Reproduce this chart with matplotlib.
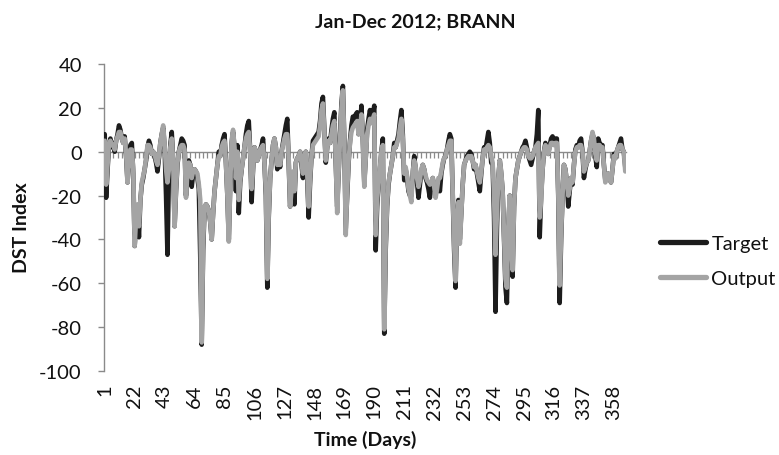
import matplotlib
matplotlib.use("Agg")
import matplotlib.pyplot as plt
import numpy as np

# Daily DST index, Jan-Dec 2012: observed values and BRANN model output
target = [
    8, -21, -8, 3, 6, 2, 4, 0, 5, 8,
    12, 10, 6, 4, 7, -2, -14, -4, 3, 4,
    -10, -43, -32, -25, -39, -22, -15, -12, -8, -4,
    2, 5, 3, -1, 0, -2, -5, -9, -3, 4,
    8, 11, 2, -20, -47, -10, 3, 9, -5, -34,
    -18, -6, 0, 3, 6, 5, 3, -20, -8, -4,
    -6, -16, -10, -8, -9, -12, -17, -48, -88, -45,
    -26, -24, -25, -27, -32, -40, -28, -18, -12, -6,
    0, -2, 3, 6, 8, -5, -20, -40, -15, 4,
    9, 2, -18, 3, -28, -14, -8, -3, 2, 8,
    12, 14, 0, -23, -8, 2, 0, -4, -2, 1,
    3, 6, -5, -20, -62, -30, -12, -4, 3, 6,
    2, -8, -4, -7, 0, 4, 8, 12, 15, -5,
    -25, -18, -10, -24, -5, -3, -2, 0, -6, -12,
    -2, 0, -12, -30, -14, -2, 5, 6, 7, 8,
    9, 14, 22, 25, 10, -5, 2, 6, 4, 10,
    15, 18, -5, -25, -10, 8, 22, 30, 5, -35,
    -20, -5, 5, 12, 16, 15, 17, 18, 8, 12,
    21, 5, -14, -3, 10, 15, 19, 14, 17, 21,
    -45, -25, -15, -8, 0, 6, -83, -45, -25, -15,
    -10, -6, -2, 4, 2, 5, 8, 14, 19, 8,
    -13, -8, -12, -18, -20, -20, -10, -2, -8, -14,
    -21, -15, -9, -6, -8, -12, -14, -17, -21, -15,
    -12, -16, -19, -18, -14, -18, -10, -6, -3, -2,
    1, 5, 8, 6, -20, -45, -62, -30, -22, -40,
    -28, -15, -6, -4, -2, -1, 0, -1, -4, -8,
    -6, -10, -14, -18, -10, -3, 2, 1, 5, 9,
    4, -5, -6, -30, -73, -35, -12, -4, -10, -18,
    -40, -62, -69, -35, -20, -42, -57, -25, -12, -8,
    -4, -2, 0, 2, 3, 5, 2, -2, -4, -6,
    -3, 0, 2, 8, 19, -39, -20, -8, 0, 4,
    2, -1, 3, 6, 7, 4, 6, 6, -20, -69,
    -40, -20, -6, -8, -14, -25, -18, -12, -15, -6,
    1, 3, 2, 5, 6, 0, -12, -8, -5, -4,
    0, 5, 8, 6, -2, -7, 6, 4, 3, 3,
    -6, -13, -12, -10, -12, -14, -8, -1, -3, 0,
    2, 4, 6, 1, 0, -7,
]

output = [
    5, -15, -6, 4, 5, 3, 3, 1, 5, 7,
    9, 9, 6, 4, 6, -1, -14, -4, 1, 1,
    -8, -43, -30, -24, -34, -22, -14, -11, -8, -3,
    3, 3, 2, -1, 0, -1, -4, -6, -2, 4,
    8, 12, 3, -8, -14, -8, 2, 6, -4, -34,
    -17, -5, 0, 2, 3, 3, 1, -21, -9, -5,
    -6, -12, -9, -8, -9, -10, -15, -22, -87, -42,
    -25, -24, -25, -27, -32, -40, -28, -18, -12, -6,
    -2, -2, 2, 4, 5, -5, -20, -41, -15, 5,
    10, 2, -12, 0, -22, -13, -8, -3, 2, 6,
    8, 9, 0, -17, -8, 2, 0, -4, -2, 1,
    2, 3, -5, -18, -58, -28, -12, -4, 3, 6,
    2, -6, -4, -6, 0, 3, 6, 8, 8, -3,
    -25, -17, -9, -18, -5, -3, -2, 0, -5, -10,
    -2, 0, -10, -25, -12, -2, 3, 4, 5, 6,
    7, 12, 19, 22, 9, -4, 2, 5, 4, 8,
    12, 14, -4, -28, -9, 6, 20, 28, 4, -38,
    -18, -4, 4, 9, 11, 12, 13, 14, 8, 10,
    17, 4, -16, -3, 8, 12, 15, 13, 15, 17,
    -38, -22, -14, -7, 0, 3, -81, -42, -24, -14,
    -10, -6, -2, 2, 2, 4, 6, 11, 15, 6,
    -10, -7, -11, -17, -20, -23, -9, -4, -7, -12,
    -16, -13, -8, -6, -8, -11, -13, -14, -15, -14,
    -12, -16, -21, -17, -12, -12, -9, -5, -3, -2,
    1, 3, 5, 5, -18, -42, -59, -30, -23, -42,
    -28, -15, -6, -4, -3, -2, -3, -2, -4, -7,
    -6, -9, -12, -14, -9, -3, 1, 0, 2, 3,
    2, -2, -5, -20, -47, -28, -12, -4, -9, -18,
    -38, -58, -62, -34, -20, -40, -54, -25, -12, -8,
    -4, -2, 0, 1, 2, 2, 1, -2, -3, -3,
    -2, 0, 2, 3, 4, -30, -22, -8, 0, 3,
    2, -1, 2, 4, 4, 3, 4, 4, -18, -61,
    -38, -20, -6, -8, -14, -20, -17, -12, -14, -6,
    0, 2, 2, 3, 3, 0, -9, -7, -5, -4,
    0, 5, 9, 6, -1, -4, 3, 3, 2, 2,
    -6, -14, -12, -10, -12, -14, -8, -2, -3, 0,
    2, 3, 3, 1, 0, -9,
]

days = list(range(1, len(target) + 1))
day_labels = [1, 22, 43, 64, 85, 106, 127, 148, 169, 190, 211, 232,
              253, 274, 295, 316, 337, 358]
y_ticks = [40, 20, 0, -20, -40, -60, -80, -100]

plt.rcParams['font.family'] = ['Lato', 'DejaVu Sans']
AXIS_GREY = '#8a8a8a'
TEXT = '#111111'

W, H = 779, 456
fig = plt.figure(figsize=(W / 100, H / 100), dpi=100)
ax = fig.add_axes([104 / W, 1 - 372 / H, 522 / W, 307 / H])

ax.plot(days, target, color='#1c1c1c', lw=3.3, solid_joinstyle='round',
        solid_capstyle='round', label='Target', zorder=3)
ax.plot(days, output, color='#a4a4a4', lw=3.3, solid_joinstyle='round',
        solid_capstyle='round', label='Output', zorder=4)

ax.set_xlim(0.5, len(days) + 0.5)
ax.set_ylim(-100, 40)

# value axis on the left
ax.set_yticks(y_ticks)
ax.set_yticklabels([str(v) for v in y_ticks])
ax.tick_params(axis='y', direction='out', length=4, width=1, color=AXIS_GREY,
               labelsize=14.5, labelcolor=TEXT, pad=12)
ax.spines['left'].set_color(AXIS_GREY)
ax.spines['left'].set_linewidth(1)
ax.spines['top'].set_visible(False)
ax.spines['right'].set_visible(False)

# category axis crossing at zero, with small tick marks
ax.spines['bottom'].set_position(('data', 0))
ax.spines['bottom'].set_color(AXIS_GREY)
ax.spines['bottom'].set_linewidth(1)
ax.set_xticks(np.arange(1, len(days) + 1, 3))
ax.tick_params(axis='x', direction='out', length=4, width=0.9,
               color=AXIS_GREY, labelbottom=False)

# day labels sit below the plot area
sec = ax.secondary_xaxis('bottom')
sec.set_xticks(day_labels)
sec.set_xticklabels([str(d) for d in day_labels])
sec.spines['bottom'].set_visible(False)
sec.tick_params(axis='x', length=0, pad=9, labelsize=14.5, labelcolor=TEXT,
                labelrotation=90)

fig.text(415 / W, 1 - 22 / H, 'Jan-Dec 2012; BRANN', ha='center',
         va='center', fontsize=14, fontweight='bold', color=TEXT)
fig.text(365 / W, 1 - 440 / H, 'Time (Days)', ha='center', va='center',
         fontsize=14, fontweight='bold', color=TEXT)
fig.text(22 / W, 1 - 228 / H, 'DST Index', ha='center', va='center',
         rotation=90, fontsize=14, fontweight='bold', color=TEXT)

leg = ax.legend(loc='center left', bbox_to_anchor=(660 / W, 1 - 262 / H),
                bbox_transform=fig.transFigure, frameon=False, fontsize=14.5,
                handlelength=2.3, handletextpad=0.25, labelspacing=0.9,
                borderpad=0, borderaxespad=0)
for line in leg.get_lines():
    line.set_linewidth(3.8)
for t in leg.get_texts():
    t.set_color(TEXT)

fig.savefig('out.png', dpi=100)
